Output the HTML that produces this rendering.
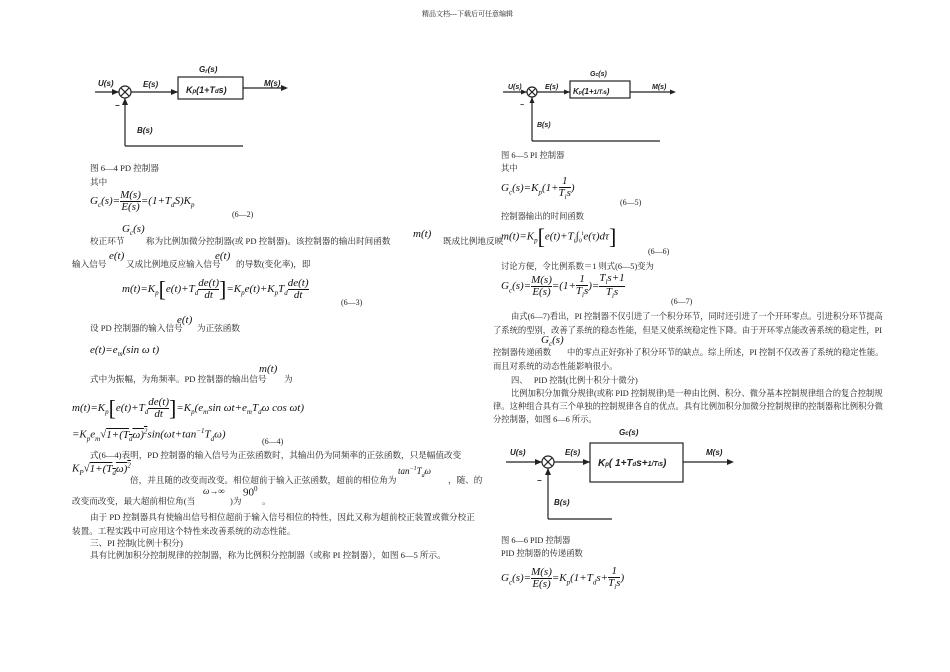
<!DOCTYPE html>
<html><head><meta charset="utf-8"><style>
body{margin:0;background:#fff;}
#p{position:relative;width:950px;height:672px;overflow:hidden;font-family:"Liberation Serif","Noto Serif CJK SC","Noto Sans CJK SC",serif;color:#222;}
.t{position:absolute;font-size:8.6px;white-space:nowrap;line-height:1;}
.r{font-size:8.3px;}
.m{position:absolute;font-family:"Liberation Serif",serif;font-style:italic;font-size:11px;white-space:nowrap;line-height:1;color:#111;}
.n{position:absolute;font-size:8px;white-space:nowrap;line-height:1;}
.fr{display:inline-block;vertical-align:middle;text-align:center;}
.fr span{display:block;}
.fr .u{border-bottom:1px solid #111;}
svg{position:absolute;left:0;top:0;}
</style></head><body><div id="p">
<div class="t" style="left:422px;top:11px;font-size:7px;">精品文档---下载后可任意编辑</div>

<svg width="950" height="672" font-family="Liberation Sans" font-style="italic" font-weight="bold" font-size="8" fill="#222">
<g stroke="#222" stroke-width="1.2" fill="none">
<line x1="95" y1="92" x2="119" y2="92"/><circle cx="125" cy="92" r="6"/>
<line x1="121" y1="88" x2="129" y2="96"/><line x1="129" y1="88" x2="121" y2="96"/>
<line x1="131" y1="92" x2="178" y2="92"/><rect x="178" y="77" width="65" height="22"/>
<line x1="243" y1="88" x2="284" y2="88"/>
<line x1="125" y1="98" x2="125" y2="146"/><line x1="125" y1="146" x2="243" y2="146"/>
<line x1="503" y1="92" x2="527" y2="92"/><circle cx="532" cy="92" r="5"/>
<line x1="529" y1="89" x2="535" y2="95"/><line x1="535" y1="89" x2="529" y2="95"/>
<line x1="537" y1="92" x2="570" y2="92"/><rect x="570" y="81" width="60" height="17"/>
<line x1="630" y1="92" x2="673" y2="92"/>
<line x1="532" y1="97" x2="532" y2="141"/><line x1="532" y1="141" x2="660" y2="141"/>
<line x1="506" y1="462" x2="542" y2="462"/><circle cx="548" cy="462" r="6"/>
<line x1="544" y1="458" x2="552" y2="466"/><line x1="552" y1="458" x2="544" y2="466"/>
<line x1="554" y1="462" x2="590" y2="462"/><rect x="590" y="443" width="93" height="39"/>
<line x1="683" y1="462" x2="730" y2="462"/>
<line x1="548" y1="468" x2="548" y2="519"/><line x1="548" y1="519" x2="612" y2="519"/>
</g>
<g stroke="none" fill="#222">
<polygon points="119,92 112,89 112,95"/><polygon points="178,92 171,89 171,95"/><polygon points="288,88 281,85 281,91"/><polygon points="125,98 122,105 128,105"/>
<polygon points="527,92 521,89.5 521,94.5"/><polygon points="570,92 564,89.5 564,94.5"/><polygon points="676,92 670,89.5 670,94.5"/><polygon points="532,97 529.5,103 534.5,103"/>
<polygon points="542,462 535,459 535,465"/><polygon points="590,462 583,459 583,465"/><polygon points="734,462 727,459 727,465"/><polygon points="548,468 545,475 551,475"/>
</g>
<text x="98" y="86">U(s)</text><text x="143" y="87">E(s)</text><text x="199" y="72">G<tspan font-size="6" dy="1">r</tspan><tspan dy="-1">(s)</tspan></text>
<text x="186" y="93" font-size="9">K<tspan font-size="6">p</tspan>(1+T<tspan font-size="6">d</tspan>s)</text>
<text x="264" y="86">M(s)</text><text x="115" y="108" font-style="normal">−</text><text x="137" y="133">B(s)</text>
<text x="508" y="89" font-size="7">U(s)</text><text x="545" y="89" font-size="7">E(s)</text><text x="590" y="76" font-size="7">G<tspan font-size="5">c</tspan>(s)</text>
<text x="573" y="94" font-size="8">K<tspan font-size="5">p</tspan>(1+<tspan font-size="6">1/T<tspan font-size="4">i</tspan>s</tspan>)</text>
<text x="652" y="89" font-size="7">M(s)</text><text x="520" y="107" font-style="normal" font-size="7">−</text><text x="537" y="127" font-size="7">B(s)</text>
<text x="510" y="455">U(s)</text><text x="565" y="455">E(s)</text><text x="619" y="435">G<tspan font-size="6">c</tspan>(s)</text>
<text x="598" y="466" font-size="10">K<tspan font-size="6">p</tspan>( 1+T<tspan font-size="6">d</tspan>s+<tspan font-size="7">1/T<tspan font-size="5">i</tspan>s</tspan>)</text>
<text x="706" y="455">M(s)</text><text x="537" y="483" font-style="normal">−</text><text x="554" y="505">B(s)</text>
</svg>

<!-- left column -->
<div class="t" style="left:90px;top:164px;">图 6—4 PD 控制器</div>
<div class="t" style="left:90px;top:178px;">其中</div>
<div class="m" style="left:90px;top:190px;">G<sub style="font-size:7px">c</sub>(s)=<span class="fr"><span class="u">M(s)</span><span>E(s)</span></span>=(1+T<sub style="font-size:7px">d</sub>S)K<sub style="font-size:7px">p</sub></div>
<div class="n" style="left:232px;top:211px;">(6—2)</div>
<div class="m" style="left:122px;top:224px;">G<sub style="font-size:7px">c</sub>(s)</div>
<div class="t" style="left:90px;top:237px;">校正环节</div>
<div class="t" style="left:146px;top:237px;">称为比例加微分控制器(或 PD 控制器)。该控制器的输出时间函数</div>
<div class="m" style="left:413px;top:229px;">m(t)</div>
<div class="t" style="left:443px;top:237px;">既成比例地反映</div>
<div class="t" style="left:72px;top:260px;">输入信号</div>
<div class="m" style="left:109px;top:251px;">e(t)</div>
<div class="t" style="left:126px;top:260px;">又成比例地反应输入信号</div>
<div class="m" style="left:215px;top:251px;">e(t)</div>
<div class="t" style="left:236px;top:260px;">的导数(变化率)，即</div>
<div class="m" style="left:122px;top:278px;">m(t)=K<sub style="font-size:7px">p</sub><span style="font-size:22px;font-style:normal;vertical-align:middle">[</span>e(t)+T<sub style="font-size:7px">d</sub><span class="fr"><span class="u">de(t)</span><span>dt</span></span><span style="font-size:22px;font-style:normal;vertical-align:middle">]</span>=K<sub style="font-size:7px">p</sub>e(t)+K<sub style="font-size:7px">p</sub>T<sub style="font-size:7px">d</sub><span class="fr"><span class="u">de(t)</span><span>dt</span></span></div>
<div class="n" style="left:341px;top:299px;">(6—3)</div>
<div class="t" style="left:90px;top:324px;">设 PD 控制器的输入信号</div>
<div class="m" style="left:177px;top:315px;">e(t)</div>
<div class="t" style="left:197px;top:324px;">为正弦函数</div>
<div class="m" style="left:90px;top:345px;">e(t)=e<sub style="font-size:7px">m</sub>(sin ω t)</div>
<div class="t" style="left:90px;top:375px;">式中为振幅，为角频率。PD 控制器的输出信号</div>
<div class="m" style="left:259px;top:364px;">m(t)</div>
<div class="t" style="left:284px;top:375px;">为</div>
<div class="m" style="left:72px;top:397px;">m(t)=K<sub style="font-size:7px">p</sub><span style="font-size:22px;font-style:normal;vertical-align:middle">[</span>e(t)+T<sub style="font-size:7px">d</sub><span class="fr"><span class="u">de(t)</span><span>dt</span></span><span style="font-size:22px;font-style:normal;vertical-align:middle">]</span>=K<sub style="font-size:7px">p</sub>(e<sub style="font-size:7px">m</sub>sin ωt+e<sub style="font-size:7px">m</sub>T<sub style="font-size:7px">d</sub>ω cos ωt)</div>
<div class="m" style="left:72px;top:428px;">=K<sub style="font-size:7px">p</sub>e<sub style="font-size:7px">m</sub>√<span style="text-decoration:overline">1+(T<sub style="font-size:7px">d</sub>ω)<sup style="font-size:7px">2</sup></span>sin(ωt+tan<sup style="font-size:7px">−1</sup>T<sub style="font-size:7px">d</sub>ω)</div>
<div class="n" style="left:262px;top:438px;">(6—4)</div>
<div class="t" style="left:90px;top:451px;">式(6—4)表明，PD 控制器的输入信号为正弦函数时，其输出仍为同频率的正弦函数，只是幅值改变</div>
<div class="m" style="left:72px;top:462px;">K<sub style="font-size:7px">P</sub>√<span style="text-decoration:overline">1+(T<sub style="font-size:7px">d</sub>ω)<sup style="font-size:7px">2</sup></span></div>
<div class="t" style="left:130px;top:476px;">倍，并且随的改变而改变。相位超前于输入正弦函数，超前的相位角为</div>
<div class="m" style="left:398px;top:466px;font-size:9px;">tan<sup style="font-size:6px">−1</sup>T<sub style="font-size:6px">d</sub>ω</div>
<div class="t" style="left:448px;top:476px;">，随、的</div>
<div class="t" style="left:72px;top:497px;">改变而改变，最大超前相位角(当</div>
<div class="m" style="left:203px;top:487px;font-size:9px;">ω→∞</div>
<div class="t" style="left:230px;top:497px;">)为</div>
<div class="m" style="left:243px;top:486px;font-style:normal;">90<sup style="font-size:7px">0</sup></div>
<div class="t" style="left:262px;top:497px;">。</div>
<div class="t" style="left:90px;top:513px;">由于 PD 控制器具有使输出信号相位超前于输入信号相位的特性，因此又称为超前校正装置或微分校正</div>
<div class="t" style="left:72px;top:527px;">装置。工程实践中可应用这个特性来改善系统的动态性能。</div>
<div class="t" style="left:90px;top:539px;">三、PI 控制(比例十积分)</div>
<div class="t" style="left:90px;top:551px;">具有比例加积分控制规律的控制器，称为比例积分控制器（或称 PI 控制器），如图 6—5 所示。</div>

<!-- right column -->
<div class="t r" style="left:501px;top:152px;">图 6—5 PI 控制器</div>
<div class="t r" style="left:501px;top:165px;">其中</div>
<div class="m" style="left:501px;top:176px;">G<sub style="font-size:7px">c</sub>(s)=K<sub style="font-size:7px">p</sub>(1+<span class="fr"><span class="u">1</span><span>T<sub style="font-size:7px">i</sub>s</span></span>)</div>
<div class="n" style="left:620px;top:199px;">(6—5)</div>
<div class="t r" style="left:501px;top:213px;">控制器输出的时间函数</div>
<div class="m" style="left:501px;top:226px;">m(t)=K<sub style="font-size:7px">p</sub><span style="font-size:22px;font-style:normal;vertical-align:middle">[</span>e(t)+T<sub style="font-size:7px">i</sub>∫<sub style="font-size:6px">0</sub><sup style="font-size:6px">t</sup>e(τ)dτ<span style="font-size:22px;font-style:normal;vertical-align:middle">]</span></div>
<div class="n" style="left:648px;top:248px;">(6—6)</div>
<div class="t r" style="left:501px;top:263px;">讨论方便，令比例系数＝1 则式(6—5)变为</div>
<div class="m" style="left:501px;top:273px;">G<sub style="font-size:7px">c</sub>(s)=<span class="fr"><span class="u">M(s)</span><span>E(s)</span></span>=(1+<span class="fr"><span class="u">1</span><span>T<sub style="font-size:7px">i</sub>s</span></span>)=<span class="fr"><span class="u">T<sub style="font-size:7px">i</sub>s+1</span><span>T<sub style="font-size:7px">i</sub>s</span></span></div>
<div class="n" style="left:671px;top:298px;">(6—7)</div>
<div class="t r" style="left:511px;top:313px;">由式(6—7)看出，PI 控制器不仅引进了一个积分环节，同时还引进了一个开环零点。引进积分环节提高</div>
<div class="t r" style="left:493px;top:327px;">了系统的型别，改善了系统的稳态性能，但是又使系统稳定性下降。由于开环零点能改善系统的稳定性，PI</div>
<div class="m" style="left:541px;top:335px;">G<sub style="font-size:7px">c</sub>(s)</div>
<div class="t r" style="left:493px;top:349px;">控制器传递函数</div>
<div class="t r" style="left:567px;top:349px;">中的零点正好弥补了积分环节的缺点。综上所述，PI 控制不仅改善了系统的稳定性能。</div>
<div class="t r" style="left:493px;top:363px;">而且对系统的动态性能影响很小。</div>
<div class="t r" style="left:511px;top:377px;">四、&nbsp;&nbsp;&nbsp;PID 控制(比例十积分十微分)</div>
<div class="t r" style="left:511px;top:390px;">比例加积分加微分规律(或称 PID 控制规律)是一种由比例、积分、微分基本控制规律组合的复合控制规</div>
<div class="t r" style="left:493px;top:403px;">律。这种组合具有三个单独的控制规律各自的优点。具有比例加积分加微分控制规律的控制器称比例积分微</div>
<div class="t r" style="left:493px;top:416px;">分控制器，如图 6—6 所示。</div>
<div class="t r" style="left:501px;top:537px;">图 6—6 PID 控制器</div>
<div class="t r" style="left:501px;top:550px;">PID 控制器的传递函数</div>
<div class="m" style="left:501px;top:566px;">G<sub style="font-size:7px">c</sub>(s)=<span class="fr"><span class="u">M(s)</span><span>E(s)</span></span>=K<sub style="font-size:7px">p</sub>(1+T<sub style="font-size:7px">d</sub>s+<span class="fr"><span class="u">1</span><span>T<sub style="font-size:7px">i</sub>s</span></span>)</div>
</div></body></html>
